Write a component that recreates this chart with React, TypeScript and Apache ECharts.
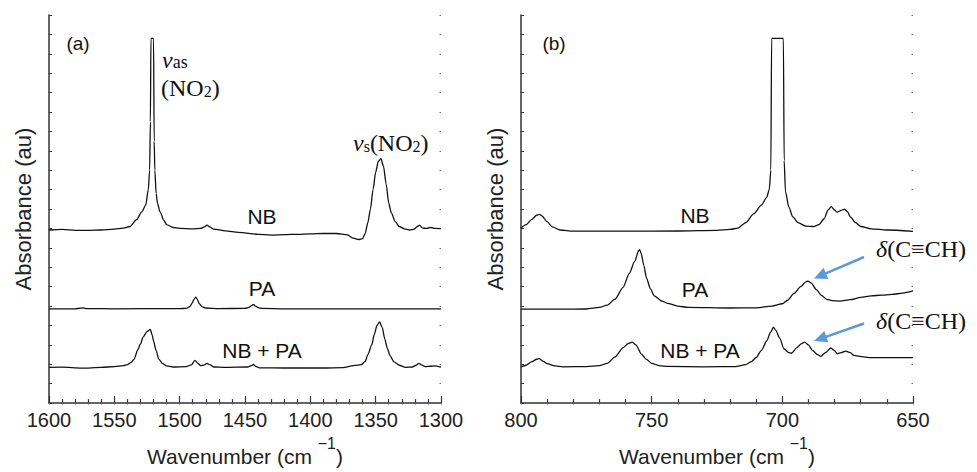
import React, { useEffect, useRef } from "react";
import * as echarts from "echarts";

// ---------- data (wavenumber cm^-1, absorbance au, offset traces) ----------
const nbLeft: [number, number][] = [
  [1600, 8.92], [1590, 8.95], [1580, 8.9], [1570, 8.9], [1560, 8.92], [1550, 8.97],
  [1543, 9.02], [1538, 9.1], [1533, 9.45], [1529, 9.85], [1526, 10.2], [1524, 11.0],
  [1523, 12.0], [1522.4, 14.5], [1522, 18.8], [1520, 18.8], [1519.5, 13.5], [1519, 12.0],
  [1518, 10.8], [1517, 10.3], [1515, 9.85], [1512, 9.4], [1510, 9.2], [1505, 9.05],
  [1500, 9.0], [1490, 8.98], [1484, 9.0], [1481, 9.08], [1479, 9.17], [1477, 9.08],
  [1474, 8.97], [1465, 8.88], [1455, 8.8], [1440, 8.7], [1430, 8.66], [1420, 8.68],
  [1410, 8.7], [1400, 8.72], [1390, 8.74], [1380, 8.74], [1372, 8.68], [1367, 8.5],
  [1363, 8.43], [1360, 8.48], [1358, 8.75], [1356, 9.3], [1354, 10.0], [1352, 11.0],
  [1350, 11.9], [1348, 12.45], [1346, 12.6], [1344, 12.2], [1342, 11.3], [1340, 10.3],
  [1338, 9.8], [1335, 9.35], [1332, 9.1], [1328, 8.98], [1324, 8.92], [1321, 8.95],
  [1318, 9.1], [1316.5, 9.17], [1314, 9.02], [1311, 9.0], [1308, 9.05], [1305, 9.0],
  [1300, 8.99],
];

const paLeft: [number, number][] = [
  [1600, 4.86], [1580, 4.86], [1576, 4.89], [1574, 4.91], [1572, 4.87], [1550, 4.86],
  [1500, 4.87], [1495, 4.88], [1492, 4.98], [1490.5, 5.15], [1489, 5.35], [1487.7, 5.46],
  [1486.5, 5.35], [1485, 5.12], [1483, 4.97], [1480, 4.9], [1470, 4.87], [1450, 4.88],
  [1447, 4.93], [1445, 5.02], [1443.6, 5.08], [1442, 5.0], [1440, 4.92], [1437, 4.88],
  [1420, 4.86], [1300, 4.86],
];

const nbpaLeft: [number, number][] = [
  [1600, 1.84], [1590, 1.85], [1575, 1.8], [1560, 1.84], [1550, 1.88], [1543, 1.93],
  [1540, 1.98], [1537, 2.1], [1535, 2.25], [1532, 2.75], [1530, 3.05], [1528, 3.4],
  [1525, 3.68], [1522.5, 3.8], [1521, 3.5], [1520, 3.2], [1518, 2.7], [1516, 2.27],
  [1513, 2.03], [1510, 1.92], [1505, 1.86], [1495, 1.88], [1491, 1.97], [1488.3, 2.2],
  [1486, 2.05], [1484, 1.93], [1481, 1.97], [1479, 2.05], [1477, 1.98], [1474, 1.86],
  [1465, 1.84], [1448, 1.86], [1445, 1.93], [1443.6, 1.99], [1442, 1.9], [1439, 1.82],
  [1420, 1.81], [1390, 1.81], [1375, 1.83], [1367, 1.93], [1361, 1.98], [1358, 2.15],
  [1356, 2.5], [1353, 3.0], [1351, 3.55], [1349, 4.0], [1347, 4.18], [1345, 3.9],
  [1343, 3.3], [1341, 2.8], [1339, 2.45], [1336, 2.12], [1332, 1.95], [1327, 1.84],
  [1322, 1.86], [1319, 1.95], [1317, 2.05], [1315, 1.97], [1312, 1.88], [1308, 1.9],
  [1305, 1.92], [1300, 1.85],
];

const nbRight: [number, number][] = [
  [800, 9.02], [798, 9.2], [796, 9.45], [794, 9.68], [793, 9.73], [792, 9.65], [790, 9.35],
  [788, 9.08], [785, 8.92], [780, 8.86], [760, 8.86], [740, 8.87], [725, 8.9], [720, 8.95],
  [717, 9.02], [714, 9.3], [711, 9.75], [708, 10.2], [706, 10.6], [705, 11.0], [704.4, 12.0],
  [704.1, 18.8], [699.6, 18.8], [699.3, 12.5], [698.8, 10.9], [697.5, 10.1], [696, 9.6],
  [694, 9.3], [691, 9.12], [688, 9.1], [686, 9.2], [684, 9.5], [682.5, 9.95], [681.3, 10.13],
  [680, 9.95], [679, 9.84], [677.5, 9.93], [676.2, 10.0], [675, 9.85], [674, 9.6], [672, 9.3],
  [670, 9.1], [666, 8.98], [660, 8.92], [650, 8.85],
];

const paRight: [number, number][] = [
  [800, 4.84], [785, 4.84], [775, 4.85], [770, 4.93], [767, 5.05], [764, 5.36], [761, 5.95],
  [758.5, 6.7], [756.5, 7.3], [755, 7.85], [754.6, 7.91], [754, 7.7], [753, 7.1], [752, 6.45],
  [750.5, 5.9], [749, 5.53], [746, 5.25], [744, 5.14], [740, 5.0], [736, 4.93], [720, 4.9],
  [710, 4.91], [704, 5.0], [700, 5.12], [698, 5.3], [695.5, 5.65], [693, 6.0], [691, 6.25],
  [690.2, 6.29], [689, 6.2], [687, 5.85], [685, 5.55], [683, 5.35], [681, 5.28], [678, 5.26],
  [674, 5.33], [670, 5.45], [666, 5.53], [662, 5.56], [658, 5.6], [654, 5.67], [650, 5.78],
];

const nbpaRight: [number, number][] = [
  [800, 1.87], [798, 1.95], [796, 2.12], [794, 2.26], [793, 2.29], [791.5, 2.15], [790, 2.03],
  [787, 1.92], [784, 1.87], [775, 1.88], [770, 1.93], [767, 2.05], [764, 2.38], [761, 2.85],
  [759, 3.07], [757.4, 3.14], [756, 3.0], [754, 2.54], [752, 2.25], [750, 2.05], [747, 1.93],
  [744, 1.89], [730, 1.87], [718, 1.88], [714, 1.98], [712, 2.12], [710, 2.35], [708, 2.72],
  [706, 3.2], [704.5, 3.65], [703.4, 3.91], [702.5, 3.75], [701, 3.35], [699.4, 2.8],
  [697.5, 2.6], [696.5, 2.57], [694.5, 2.85], [692.8, 3.05], [691.5, 3.14], [690, 3.0],
  [688.5, 2.72], [686.5, 2.5], [685.3, 2.41], [683.5, 2.6], [681.5, 2.84], [680, 2.7],
  [679, 2.54], [677.5, 2.6], [675.8, 2.68], [674, 2.6], [672.7, 2.46], [669, 2.38],
  [666, 2.34], [650, 2.34],
];

const leftRange = [1300, 1600];
const rightRange = [650, 800];
const yRange = [0, 20];
const traceLabels = ["NB", "PA", "NB + PA"];
const panelLabels = ["(a)", "(b)"];
const xTitle = "Wavenumber (cm ";
const yTitle = "Absorbance (au)";

const SANS = "'Liberation Sans', Arial, Helvetica, sans-serif";
const SERIF = "'Liberation Serif', 'Times New Roman', 'DejaVu Serif', serif";
const INK = "#111";
const AXIS = "#333";
const ARROW = "#5b9bd5";

function arrow(x1: number, y1: number, x2: number, y2: number) {
  const dx = x2 - x1, dy = y2 - y1;
  const len = Math.hypot(dx, dy);
  const ux = dx / len, uy = dy / len;
  const hl = 13, hw = 6;
  const bx = x2 - hl * ux, by = y2 - hl * uy;
  const px = -uy, py = ux;
  return [
    { type: "line", shape: { x1, y1, x2: bx + ux * 2, y2: by + uy * 2 }, style: { stroke: ARROW, lineWidth: 2.5 } },
    {
      type: "polygon",
      shape: { points: [[x2, y2], [bx + px * hw, by + py * hw], [bx - px * hw, by - py * hw]] },
      style: { fill: ARROW },
    },
  ];
}

function bottomAxis(grid: number, range: number[]) {
  return {
    type: "value", gridIndex: grid, position: "bottom", inverse: true,
    min: range[0], max: range[1], interval: 50,
    axisLine: { show: true, lineStyle: { color: AXIS, width: 1.5 } },
    axisTick: { show: true, inside: true, length: 7, lineStyle: { color: AXIS, width: 1.2 } },
    minorTick: { show: true, splitNumber: 5, length: 4, lineStyle: { color: AXIS, width: 1.2 } },
    splitLine: { show: false },
    axisLabel: {
      fontSize: 20, color: "#222", fontFamily: SANS, margin: 7,
      formatter: (v: number) => String(v),
    },
    name: "{m|" + xTitle + "}{s|−1}{m|)}",
    nameLocation: "middle", nameGap: 34,
    nameTextStyle: {
      rich: {
        m: { fontSize: 21, fontFamily: SANS, color: "#222", lineHeight: 24, verticalAlign: "bottom" },
        s: { fontSize: 16, fontFamily: SANS, color: "#222", lineHeight: 16, verticalAlign: "bottom", padding: [0, 0, 16, 0] },
      },
    },
  };
}

function topAxis(grid: number, range: number[]) {
  return {
    type: "value", gridIndex: grid, position: "top", inverse: true,
    min: range[0], max: range[1], interval: 10,
    axisLine: { show: false },
    axisTick: { show: true, inside: true, length: 1.5, lineStyle: { color: "#666", width: 1 } },
    axisLabel: { show: false }, splitLine: { show: false },
  };
}

function leftY(grid: number) {
  return {
    type: "value", gridIndex: grid, position: "left", min: yRange[0], max: yRange[1], interval: 1,
    axisLine: { show: true, lineStyle: { color: AXIS, width: 1.5 } },
    axisTick: { show: true, inside: true, length: 3, lineStyle: { color: AXIS, width: 1 } },
    axisLabel: { show: false }, splitLine: { show: false },
    name: yTitle, nameLocation: "middle", nameGap: 15,
    nameTextStyle: { fontSize: 22, fontFamily: SANS, color: "#222" },
  };
}

function rightY(grid: number) {
  return {
    type: "value", gridIndex: grid, position: "right", min: yRange[0], max: yRange[1], interval: 1,
    axisLine: { show: false },
    axisTick: { show: true, inside: true, length: 1.5, lineStyle: { color: "#666", width: 1 } },
    axisLabel: { show: false }, splitLine: { show: false },
  };
}

function trace(name: string, data: [number, number][], xi: number, yi: number) {
  return {
    type: "line", name, data, xAxisIndex: xi, yAxisIndex: yi,
    showSymbol: false, symbol: "none", smooth: 0.25, smoothMonotone: "x",
    lineStyle: { color: INK, width: 1.3 }, silent: true,
  };
}

function label(text: string, x: number, y: number, size = 21) {
  return {
    type: "text", x, y,
    style: { text, fill: INK, font: `${size}px ${SANS}`, align: "center", verticalAlign: "middle" },
  };
}

export default function App() {
  const ref = useRef<HTMLDivElement>(null);
  useEffect(() => {
    if (!ref.current) return;
    const chart = echarts.init(ref.current, null, { renderer: "svg" });
    const serifRich = {
      n: { fontSize: 24, fontFamily: SERIF, fontStyle: "italic", fill: INK, color: INK, lineHeight: 22 },
      a: { fontSize: 18, fontFamily: SERIF, fill: INK, color: INK, verticalAlign: "bottom", lineHeight: 18 },
      t: { fontSize: 24, fontFamily: SERIF, fill: INK, color: INK, lineHeight: 22 },
      b: { fontSize: 16, fontFamily: SERIF, fill: INK, color: INK, verticalAlign: "bottom", lineHeight: 16 },
    };
    const option: any = {
      animation: false,
      backgroundColor: "#fff",
      grid: [
        { left: 49, top: 15, width: 392, height: 391 },
        { left: 521, top: 15, width: 392, height: 391 },
      ],
      xAxis: [bottomAxis(0, leftRange), bottomAxis(1, rightRange), topAxis(0, leftRange), topAxis(1, rightRange)],
      yAxis: [leftY(0), leftY(1), rightY(0), rightY(1)],
      series: [
        trace("NB (a)", nbLeft, 0, 0),
        trace("PA (a)", paLeft, 0, 0),
        trace("NB + PA (a)", nbpaLeft, 0, 0),
        trace("NB (b)", nbRight, 1, 1),
        trace("PA (b)", paRight, 1, 1),
        trace("NB + PA (b)", nbpaRight, 1, 1),
      ],
      graphic: [
        label(panelLabels[0], 78, 43, 19),
        label(panelLabels[1], 554, 43, 19),
        label(traceLabels[0], 262, 216),
        label(traceLabels[1], 262, 288),
        label(traceLabels[2], 262, 350),
        label(traceLabels[0], 695, 215),
        label(traceLabels[1], 695, 289),
        label(traceLabels[2], 700, 350),
        {
          type: "text", x: 162, y: 60,
          style: { text: "{n|ν}{a|as}", rich: serifRich, fill: INK, verticalAlign: "middle" },
        },
        {
          type: "text", x: 161, y: 88,
          style: { text: "{t|(NO}{b|2}{t|)}", rich: serifRich, fill: INK, verticalAlign: "middle" },
        },
        {
          type: "text", x: 353, y: 143,
          style: { text: "{n|ν}{b|s}{t|(NO}{b|2}{t|)}", rich: serifRich, fill: INK, verticalAlign: "middle" },
        },
        {
          type: "text", x: 876, y: 249,
          style: { text: "{n|δ}{t|(C≡CH)}", rich: serifRich, fill: INK, verticalAlign: "middle" },
        },
        {
          type: "text", x: 876, y: 321,
          style: { text: "{n|δ}{t|(C≡CH)}", rich: serifRich, fill: INK, verticalAlign: "middle" },
        },
        ...arrow(864, 257, 814, 278.5),
        ...arrow(864, 323.5, 814, 341),
      ],
    };
    chart.setOption(option);
    return () => chart.dispose();
  }, []);
  return (
    <div
      ref={ref}
      style={{ position: "fixed", left: 0, top: 0, width: 977, height: 472, background: "#fff" }}
    />
  );
}
